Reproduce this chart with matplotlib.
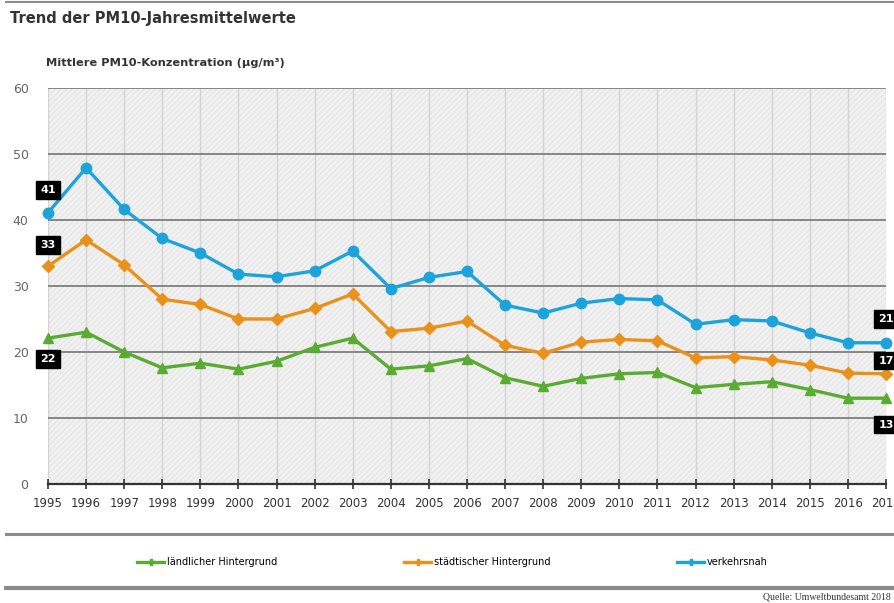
"""Trend der PM10-Jahresmittelwerte, 1995-2017 (UBA style line chart)."""

import matplotlib
matplotlib.use("Agg")
import matplotlib.pyplot as plt
from matplotlib.lines import Line2D
from matplotlib.patches import Rectangle

YEARS = list(range(1995, 2018))

# µg/m³
RURAL = [22.1, 23.0, 20.0, 17.6, 18.3, 17.4, 18.6, 20.7, 22.1, 17.4, 17.9, 19.0,
         16.1, 14.8, 16.0, 16.7, 16.9, 14.6, 15.1, 15.5, 14.3, 13.0, 13.0]
URBAN = [33.0, 37.0, 33.2, 28.0, 27.2, 25.0, 25.0, 26.6, 28.8, 23.1, 23.6, 24.7,
         21.0, 19.8, 21.5, 21.9, 21.7, 19.1, 19.3, 18.8, 18.0, 16.8, 16.7]
TRAFFIC = [41.1, 47.9, 41.6, 37.2, 35.0, 31.8, 31.4, 32.3, 35.3, 29.6, 31.3, 32.2,
           27.1, 25.9, 27.4, 28.1, 27.9, 24.2, 24.9, 24.7, 22.9, 21.4, 21.4]

LABELS = ["ländlicher Hintergrund", "städtischer Hintergrund", "verkehrsnah"]
COLORS = ["#5aab32", "#e8911b", "#1ba3da"]
MARKERS = ["^", "D", "o"]

# rounded start/end values shown in the black boxes: (year, y position, text)
BOXES_LEFT = [(1995, 44.6, "41"), (1995, 36.2, "33"), (1995, 18.9, "22")]
BOXES_RIGHT = [(2017, 25.0, "21"), (2017, 18.7, "17"), (2017, 9.0, "13")]

plt.rcParams["hatch.color"] = "#e2e2e2"
plt.rcParams["hatch.linewidth"] = 0.6

fig = plt.figure(figsize=(8.95, 6.03), dpi=100)
ax = fig.add_axes([48 / 895, 119 / 603, 838 / 895, 396 / 603])
ax.set_facecolor("#f1f1f1")
ax.add_patch(Rectangle((0, 0), 1, 1, transform=ax.transAxes, fill=False,
                       hatch="//////", edgecolor="#e2e2e2", linewidth=0, zorder=0))

for ys, color, marker, label in zip([RURAL, URBAN, TRAFFIC], COLORS, MARKERS, LABELS):
    ms = 6 if marker == "D" else 7.5
    ax.plot(YEARS, ys, color=color, marker=marker, markersize=ms, linewidth=2.4,
            label=label, zorder=3, clip_on=False)

ax.set_xlim(1995, 2017)
ax.set_ylim(0, 60)
ax.set_xticks(YEARS)
ax.set_yticks(range(0, 61, 10))

for x in YEARS:
    ax.axvline(x, color="#d4d4d4", linewidth=1.0, zorder=1)
for y in range(10, 61, 10):
    ax.axhline(y, color="#7f7f7f", linewidth=1.3, zorder=2)

for side in ["left", "right", "top"]:
    ax.spines[side].set_visible(False)
ax.spines["bottom"].set_color("#333333")
ax.spines["bottom"].set_linewidth(1.6)
ax.tick_params(axis="x", direction="inout", length=7, width=1.2, color="#333333",
               labelsize=8.5, labelcolor="#333333", pad=6)
ax.tick_params(axis="y", length=0, pad=14, labelsize=9, labelcolor="#666666")
for t in ax.get_xticklabels():
    t.set_fontfamily(["Liberation Sans Narrow", "DejaVu Sans"])

box = dict(boxstyle="square,pad=0.35", facecolor="black", edgecolor="black")
for x, y, txt in BOXES_LEFT + BOXES_RIGHT:
    ax.text(x, y, txt, color="white", fontsize=8, fontweight="bold", ha="center",
            va="center", bbox=box, zorder=5, clip_on=False)

fig.text(10 / 895, 1 - 18 / 603, "Trend der PM10-Jahresmittelwerte", fontsize=10.5,
         fontweight="bold", color="#333333", va="center")
fig.text(46 / 895, 1 - 63 / 603, "Mittlere PM10-Konzentration (µg/m³)", fontsize=8.2,
         fontweight="bold", color="#333333", va="center")

# horizontal rules
for y, lw in [(1 - 2 / 603, 1.5), (1 - 534 / 603, 2.2), (1 - 588 / 603, 3.0)]:
    fig.add_artist(Line2D([6 / 895, 1], [y, y], transform=fig.transFigure,
                          color="#8c8c8c", linewidth=lw))

# legend entries spread across the strip between the rules
handles = ax.get_lines()
for h, x0 in zip(handles, [137, 404, 677]):
    hh = Line2D([], [], color=h.get_color(), marker="P", markersize=4, linewidth=2.4)
    fig.legend([hh], [h.get_label()], loc="center left",
               bbox_to_anchor=(x0 / 895, 1 - 562 / 603), frameon=False,
               handlelength=2.8, handletextpad=0.3, borderaxespad=0,
               borderpad=0, prop={"family": ["Liberation Sans Narrow", "DejaVu Sans"],
                                  "size": 7})

fig.text(763 / 895, 1 - 597 / 603, "Quelle: Umweltbundesamt 2018", fontsize=7,
         family="Liberation Serif", color="#333333", va="center")

fig.savefig("out.png", dpi=100)
